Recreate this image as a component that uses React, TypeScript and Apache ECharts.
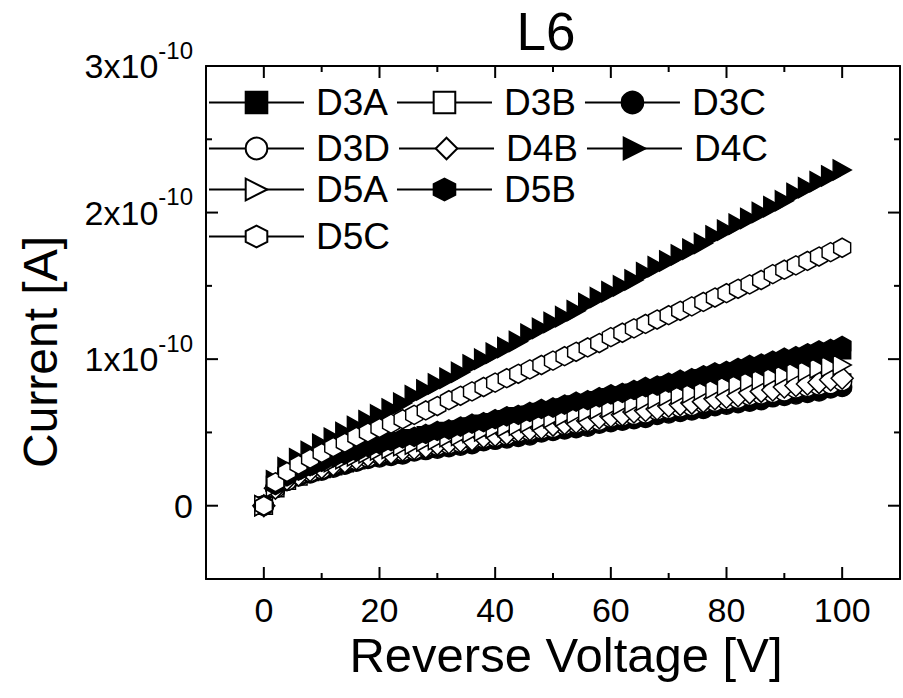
import React, { useEffect, useRef } from 'react';
import * as echarts from 'echarts';

// Reverse voltage [V]
const voltage = [0, 2, 4, 6, 8, 10, 12, 14, 16, 18, 20, 22, 24, 26, 28, 30, 32, 34, 36, 38, 40, 42, 44, 46, 48, 50, 52, 54, 56, 58, 60, 62, 64, 66, 68, 70, 72, 74, 76, 78, 80, 82, 84, 86, 88, 90, 92, 94, 96, 98, 100];

// Current in units of 1e-10 A
const D3A = [0, .14, .19, .23, .26, .29, .32, .34, .36, .39, .41, .43, .44, .46, .48, .49, .51, .52, .54, .56, .57, .59, .61, .62, .64, .65, .67, .69, .70, .72, .74, .75, .77, .78, .80, .82, .83, .85, .87, .88, .90, .91, .93, .95, .96, .98, 1.00, 1.01, 1.03, 1.04, 1.06];
const D3B = [0, .12, .17, .20, .23, .25, .27, .29, .31, .33, .34, .35, .37, .38, .39, .40, .42, .43, .44, .45, .47, .48, .49, .50, .52, .53, .54, .55, .57, .58, .59, .60, .62, .63, .64, .65, .67, .68, .69, .70, .72, .73, .74, .75, .77, .78, .79, .80, .82, .83, .84];
const D3C = [0, .12, .17, .20, .22, .24, .26, .28, .30, .32, .33, .34, .35, .37, .38, .39, .40, .41, .42, .44, .45, .46, .47, .48, .50, .51, .52, .53, .54, .56, .57, .58, .59, .60, .62, .63, .64, .65, .66, .68, .69, .70, .71, .72, .74, .75, .76, .77, .78, .80, .81];
const D3D = [0, .12, .17, .21, .23, .25, .28, .30, .31, .33, .35, .36, .37, .38, .40, .41, .42, .43, .45, .46, .47, .48, .50, .51, .52, .53, .55, .56, .57, .58, .60, .61, .62, .63, .65, .66, .67, .68, .70, .71, .72, .73, .75, .76, .77, .78, .80, .81, .82, .83, .85];
const D4B = [0, .12, .18, .21, .24, .26, .28, .30, .32, .34, .35, .36, .38, .39, .40, .42, .43, .44, .45, .47, .48, .49, .51, .52, .53, .55, .56, .57, .58, .60, .61, .62, .64, .65, .66, .68, .69, .70, .71, .73, .74, .75, .77, .78, .79, .81, .82, .83, .84, .86, .87];
const D4C = [0, .17, .26, .32, .37, .42, .46, .50, .54, .58, .62, .66, .70, .75, .79, .83, .87, .91, .96, 1.00, 1.04, 1.08, 1.12, 1.17, 1.21, 1.25, 1.29, 1.33, 1.38, 1.42, 1.46, 1.50, 1.54, 1.59, 1.63, 1.67, 1.71, 1.75, 1.79, 1.84, 1.88, 1.92, 1.96, 2.00, 2.04, 2.08, 2.13, 2.17, 2.21, 2.25, 2.29];
const D5A = [0, .13, .19, .22, .25, .28, .30, .32, .34, .36, .38, .39, .41, .42, .44, .45, .47, .48, .50, .51, .53, .54, .55, .57, .58, .60, .61, .63, .64, .66, .67, .69, .70, .72, .73, .75, .76, .77, .79, .80, .82, .83, .85, .86, .88, .89, .91, .92, .94, .95, .96];
const D5B = [0, .14, .20, .24, .27, .30, .33, .35, .37, .40, .42, .44, .46, .47, .49, .51, .52, .54, .56, .57, .59, .61, .62, .64, .66, .67, .69, .71, .72, .74, .76, .77, .79, .81, .82, .84, .86, .87, .89, .91, .92, .94, .96, .97, .99, 1.01, 1.02, 1.04, 1.06, 1.07, 1.09];
const D5C = [0, .16, .23, .28, .32, .36, .40, .43, .47, .50, .53, .56, .59, .62, .65, .68, .72, .75, .78, .81, .84, .87, .90, .93, .96, .99, 1.02, 1.05, 1.08, 1.11, 1.15, 1.18, 1.21, 1.24, 1.27, 1.30, 1.33, 1.36, 1.39, 1.42, 1.45, 1.48, 1.51, 1.54, 1.58, 1.61, 1.64, 1.67, 1.70, 1.73, 1.76];

// Tick values
const xMajorTicks = [0, 20, 40, 60, 80, 100];
const xAllTicks = [0, 10, 20, 30, 40, 50, 60, 70, 80, 90, 100];
const yMajorTicks = [0, 1, 2, 3];
const yAllTicks = [0, 0.5, 1, 1.5, 2, 2.5];

const X_MIN = -10, X_MAX = 110, Y_MIN = -0.5, Y_MAX = 3;

const FONT = "'Liberation Sans', Arial, Helvetica, sans-serif";
const HEX = 'path://M0,-1L0.866,-0.5L0.866,0.5L0,1L-0.866,0.5L-0.866,-0.5Z';
const TRI_RIGHT = 'path://M0,0L1.732,1L0,2Z';

const seriesDefs = [
  { name: 'D3A', values: D3A, symbol: 'rect', size: 17, filled: true },
  { name: 'D3B', values: D3B, symbol: 'rect', size: 17, filled: false },
  { name: 'D3C', values: D3C, symbol: 'circle', size: 19, filled: true },
  { name: 'D3D', values: D3D, symbol: 'circle', size: 19, filled: false },
  { name: 'D4B', values: D4B, symbol: 'diamond', size: 22, filled: false },
  { name: 'D4C', values: D4C, symbol: TRI_RIGHT, size: [18, 20], filled: true },
  { name: 'D5A', values: D5A, symbol: TRI_RIGHT, size: [18, 20], filled: false },
  { name: 'D5B', values: D5B, symbol: HEX, size: [17, 19], filled: true },
  { name: 'D5C', values: D5C, symbol: HEX, size: [17, 19], filled: false },
];

const legendRows = [
  ['D3A', 'D3B', 'D3C'],
  ['D3D', 'D4B', 'D4C'],
  ['D5A', 'D5B'],
  ['D5C'],
];
const legendTops = [84, 130, 171, 218];

export default function App() {
  const ref = useRef<HTMLDivElement>(null);

  useEffect(() => {
    if (!ref.current) return;
    const chart = echarts.init(ref.current, null, { renderer: 'svg' });

    const frameLine = { show: true, onZero: false, lineStyle: { color: '#000', width: 2 } };
    const baseX = { type: 'value', min: X_MIN, max: X_MAX, splitLine: { show: false }, axisLine: frameLine, axisTick: { show: false } };
    const baseY = { type: 'value', min: Y_MIN, max: Y_MAX, splitLine: { show: false }, axisLine: frameLine, axisTick: { show: false } };

    const tickLine = (x1: number, y1: number, x2: number, y2: number) => ({
      type: 'line',
      shape: { x1, y1, x2, y2 },
      style: { stroke: '#000', lineWidth: 2 },
    });

    const option: any = {
      animation: false,
      backgroundColor: '#fff',
      grid: { left: 206, right: 3, top: 66, bottom: 119, show: false },
      xAxis: [
        {
          ...baseX, position: 'bottom',
          axisLabel: { customValues: xMajorTicks, fontSize: 34, fontFamily: FONT, color: '#000', margin: 14 },
        },
        { ...baseX, position: 'top', axisLabel: { show: false } },
      ],
      yAxis: [
        {
          ...baseY, position: 'left',
          axisLabel: {
            customValues: yMajorTicks, margin: 13, color: '#000',
            formatter: (v: number) => (v === 0 ? '{m|0}' : `{m|${v}x10}{s|-10}`),
            rich: {
              m: { fontSize: 34, fontFamily: FONT, color: '#000', lineHeight: 34, verticalAlign: 'bottom' },
              s: { fontSize: 24, fontFamily: FONT, color: '#000', lineHeight: 24, verticalAlign: 'bottom', padding: [0, 0, 21, 0] },
            },
          },
        },
        { ...baseY, position: 'right', axisLabel: { show: false } },
      ],
      legend: legendRows.map((row, i) => ({
        data: row,
        left: 208,
        top: legendTops[i],
        orient: 'horizontal',
        padding: 0,
        itemWidth: 95,
        itemHeight: 27,
        itemGap: 8,
        selectedMode: false,
        textStyle: { fontSize: 37, fontFamily: FONT, color: '#000', padding: [0, 0, 0, 7] },
      })),
      graphic: [
        {
          type: 'text', x: 546, y: 31,
          style: { text: 'L6', fontSize: 53, fontFamily: FONT, fill: '#000', textAlign: 'center', textVerticalAlign: 'middle' },
        },
        {
          type: 'text', x: 566, y: 655,
          style: { text: 'Reverse Voltage [V]', fontSize: 49, fontFamily: FONT, fill: '#000', textAlign: 'center', textVerticalAlign: 'middle' },
        },
        {
          type: 'text', x: 40, y: 352, rotation: Math.PI / 2,
          style: { text: 'Current [A]', fontSize: 48, fontFamily: FONT, fill: '#000', textAlign: 'center', textVerticalAlign: 'middle' },
        },
      ],
      series: [
        ...seriesDefs.map((s) => ({
          name: s.name,
          type: 'line',
          xAxisIndex: 0,
          yAxisIndex: 0,
          data: voltage.map((v, i) => [v, s.values[i]]),
          symbol: s.symbol,
          symbolSize: s.size,
          showAllSymbol: true,
          lineStyle: { color: '#000', width: 1 },
          itemStyle: { color: s.filled ? '#000' : '#fff', borderColor: '#000', borderWidth: 1.5 },
          emphasis: { disabled: true },
        })),
        {
          name: 'xTicks',
          type: 'custom',
          xAxisIndex: 0,
          yAxisIndex: 0,
          silent: true,
          z: 5,
          data: xAllTicks.map((v) => [v, xMajorTicks.includes(v) ? 1 : 0]),
          renderItem: (_p: any, api: any) => {
            const v = api.value(0);
            const len = api.value(1) ? 12 : 6;
            const b = api.coord([v, Y_MIN]);
            const t = api.coord([v, Y_MAX]);
            return {
              type: 'group',
              children: [tickLine(b[0], b[1], b[0], b[1] - len), tickLine(t[0], t[1], t[0], t[1] + len)],
            };
          },
        },
        {
          name: 'yTicks',
          type: 'custom',
          xAxisIndex: 0,
          yAxisIndex: 0,
          silent: true,
          z: 5,
          data: yAllTicks.map((v) => [yMajorTicks.includes(v) ? 1 : 0, v]),
          renderItem: (_p: any, api: any) => {
            const v = api.value(1);
            const len = api.value(0) ? 12 : 6;
            const l = api.coord([X_MIN, v]);
            const r = api.coord([X_MAX, v]);
            return {
              type: 'group',
              children: [tickLine(l[0], l[1], l[0] + len, l[1]), tickLine(r[0], r[1], r[0] - len, r[1])],
            };
          },
        },
      ],
    };

    chart.setOption(option);
    return () => chart.dispose();
  }, []);

  return (
    <div
      ref={ref}
      style={{ position: 'fixed', left: 0, top: 0, width: 903, height: 698, background: '#fff' }}
    />
  );
}
